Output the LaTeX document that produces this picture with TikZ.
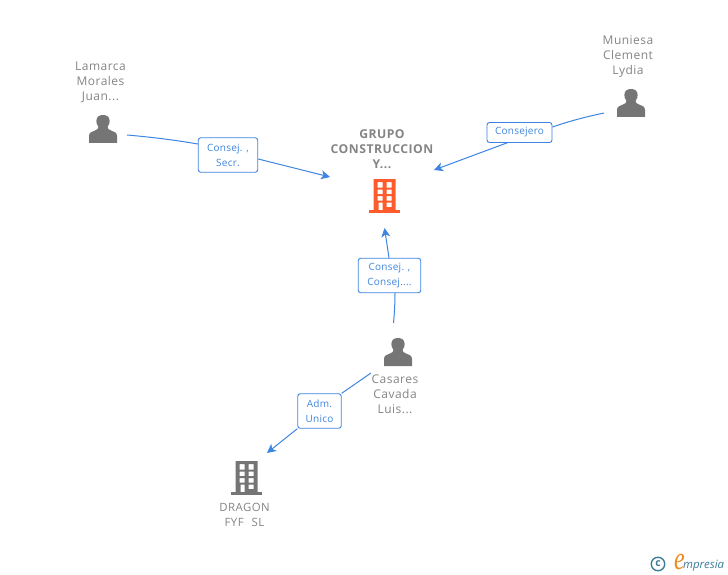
\documentclass[tikz,border=0pt]{standalone}
\usepackage{fontspec}
\setmainfont{Open Sans}
\newfontfamily\spacedfont[LetterSpace=4]{Open Sans}
\newfontfamily\roleface[LetterSpace=2.5]{Open Sans}
\newfontfamily\logoserif{Liberation Serif}
\usetikzlibrary{arrows.meta}
\definecolor{linkblue}{HTML}{3D85E0}
\definecolor{labelblue}{HTML}{3F86DC}
\definecolor{icongray}{HTML}{757575}
\definecolor{textgray}{HTML}{858585}
\definecolor{orangeb}{HTML}{FF5C2E}
\definecolor{logoteal}{HTML}{3C7D96}
\definecolor{logoorange}{HTML}{F08A1D}
\tikzset{
  namelabel/.style={text=textgray,font=\spacedfont\fontsize{12}{15}\selectfont,align=center,inner sep=0pt},
  rolebox/.style={draw=linkblue,line width=0.9pt,rounded corners=2.5pt,fill=white,text=labelblue,font=\roleface\fontsize{10}{15}\selectfont,align=center,inner sep=0pt},
  link/.style={draw=linkblue,line width=1pt},
  linkarrow/.style={link,-{Stealth[length=9pt,width=9pt,inset=2.5pt]}},
}
\newcommand{\personicon}[3]{% x y name (x = centre, y = top)
  \begin{scope}[shift={(#1,#2)}]
    \fill[icongray] (-14,28) -- (-14,21) .. controls (-14,17.5) and (-11,16.5) .. (-8,15.5)
      .. controls (-5.5,14.6) and (-4.5,13.6) .. (-4.6,12)
      .. controls (-6.5,10) and (-6.6,7) .. (-6.6,6) .. controls (-6.6,2) and (-4,0) .. (0,0)
      .. controls (4,0) and (6.6,2) .. (6.6,6) .. controls (6.6,7) and (6.5,10) .. (4.6,12)
      .. controls (4.5,13.6) and (5.5,14.6) .. (8,15.5)
      .. controls (11,16.5) and (14,17.5) .. (14,21) -- (14,28) -- cycle;
    \coordinate (#3) at (0,14);
  \end{scope}}
\newcommand{\buildingicon}[4]{% x y colour name (x = left, y = top)
  \begin{scope}[shift={(#1,#2)}]
    \fill[#3,even odd rule] (4.5,0) rectangle (26.5,31.5)
      (8.5,3) rectangle (13.5,8.5) (17.5,3) rectangle (22.5,8.5)
      (8.5,10.5) rectangle (13.5,15) (17.5,10.5) rectangle (22.5,15)
      (8.5,17) rectangle (13.5,21.5) (17.5,17) rectangle (22.5,21.5)
      (9.5,23.5) rectangle (13.5,31.5) (17.5,23.5) rectangle (22.5,28);
    \fill[#3] (0,31) rectangle (31,34);
    \coordinate (#4) at (15.5,17);
  \end{scope}}
\begin{document}
\begin{tikzpicture}[x=1pt,y=-1pt]
\useasboundingbox (0,0) rectangle (728,575);
\fill[white] (0,0) rectangle (728,575);

% icons
\personicon{103}{115}{lamarcaicon}
\personicon{631}{89}{muniesaicon}
\personicon{398}{338}{casaresicon}
\buildingicon{369}{179}{orangeb}{grupoicon}
\buildingicon{231}{461}{icongray}{dragonicon}

% names
\node[namelabel] (lamarca) at (100.5,82) {Lamarca\\Morales\\Juan...};
\node[namelabel] (muniesa) at (628,57) {Muniesa\\Clement\\Lydia};
\node[namelabel] (casares) at (395,394) {Casares\\Cavada\\Luis...};
\node[namelabel,font=\spacedfont\fontsize{12.2}{15}\selectfont\bfseries] (grupo) at (382,149) {GRUPO\\CONSTRUCCION\\Y...};
\node[namelabel,font=\spacedfont\fontsize{11.4}{15}\selectfont] (dragon) at (244.5,515) {DRAGON\\FYF\hspace{8pt}SL};

% role boxes
\node[rolebox,minimum width=59.5pt,minimum height=34.5pt] (r1) at (228,155) {Consej. ,\\Secr.};
\node[rolebox,minimum width=65pt,minimum height=20pt] (r2) at (519.5,132.5) {Consejero};
\node[rolebox,minimum width=62.5pt,minimum height=34.5pt] (r3) at (389.5,275.5) {Consej. ,\\Consej....};
\node[rolebox,minimum width=43.5pt,minimum height=34.5pt] (r4) at (319.5,411) {Adm.\\Unico};

% free ends of the connectors
\coordinate (a1) at (127,135);
\coordinate (a2) at (330,177);
\coordinate (b1) at (604,113);
\coordinate (b2) at (434,170);
\coordinate (c1) at (393.5,323);
\coordinate (c2) at (384.5,228);
\coordinate (d1) at (371,373);
\coordinate (d2) at (267,453);

% connectors
\draw[link] (a1) .. controls (150,137) and (175,140) .. (r1.west |- 0,144);
\draw[linkarrow] (r1.east |- 0,159) -- (a2);
\draw[link] (b1) .. controls (585,117) and (570,121) .. (r2.east |- 0,127);
\draw[linkarrow] (508,142.5) -- (b2);
\draw[link] (c1) .. controls (394.5,313) and (395,302) .. (r3.south -| 395,0);
\draw[linkarrow] (r3.north -| 389,0) -- (c2);
\draw[link] (d1) -- (r4.north east);
\draw[linkarrow] (r4.south west) -- (d2);

% logo
\node[draw=logoteal,line width=1.4pt,circle,minimum size=13.5pt,inner sep=0pt,text=logoteal,font=\fontsize{10.5}{10.5}\selectfont\bfseries] (copyr) at (658,564) {c};
\node[inner sep=0pt,anchor=base west,font=\fontsize{11.4}{13}\selectfont\itshape,text=logoteal] (logo) at (683,568.5) {mpresia};
\node[inner sep=0pt,anchor=base east,font=\logoserif\fontsize{24}{24}\selectfont\itshape,text=logoorange] (logoe) at (685,569) {\scalebox{1}[1.35]{e}};
\end{tikzpicture}
\end{document}
